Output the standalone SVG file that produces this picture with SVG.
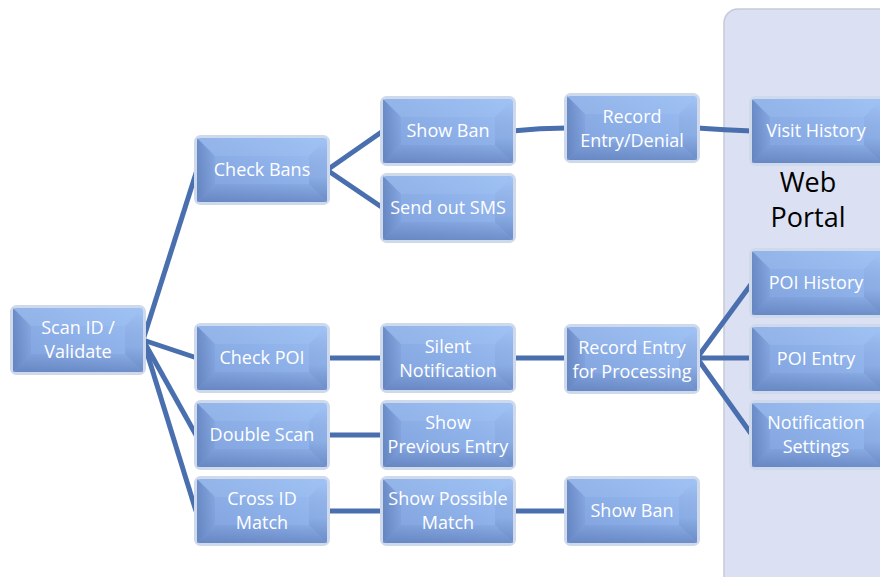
<svg xmlns="http://www.w3.org/2000/svg" xmlns:xlink="http://www.w3.org/1999/xlink" width="880" height="577" viewBox="0 0 880 577">
<style>
.t{font-family:"Open Sans","Liberation Sans",sans-serif;font-size:18px;fill:#ffffff;text-anchor:middle}
.c{stroke:#4a6fae;stroke-width:5;fill:none;stroke-linecap:butt}
.wp{font-family:"Open Sans","Liberation Sans",sans-serif;font-size:27px;fill:#000000;text-anchor:middle}
</style>
<defs>
<linearGradient id="face2" x1="1" y1="0" x2="0" y2="1">
<stop offset="0" stop-color="#9cbff4"/>
<stop offset="1" stop-color="#7e9fdb"/>
</linearGradient>
<linearGradient id="gl" x1="0" y1="0" x2="1" y2="0">
<stop offset="0" stop-color="#4f6fab" stop-opacity="0.55"/>
<stop offset="1" stop-color="#4f6fab" stop-opacity="0.1"/>
</linearGradient>
<linearGradient id="gb" x1="0" y1="0" x2="0" y2="1">
<stop offset="0" stop-color="#4f6fab" stop-opacity="0.1"/>
<stop offset="1" stop-color="#4f6fab" stop-opacity="0.5"/>
</linearGradient>
<linearGradient id="gr" x1="0" y1="0" x2="0" y2="1">
<stop offset="0" stop-color="#b5d2fa" stop-opacity="0.3"/>
<stop offset="0.6" stop-color="#4f6fab" stop-opacity="0.1"/>
<stop offset="1" stop-color="#4f6fab" stop-opacity="0.55"/>
</linearGradient>
<g id="bx">
<rect x="-1.5" y="-1.5" width="133" height="67" rx="5" fill="none" stroke="#cfd9ec" stroke-width="3"/>
<rect x="0" y="0" width="130" height="64" rx="3" fill="url(#face2)"/>
<polygon points="0,0 18,18 18,46 0,64" fill="url(#gl)"/>
<polygon points="0,64 18,46 112,46 130,64" fill="url(#gb)"/>
<polygon points="130,0 130,64 112,46 112,18" fill="url(#gr)"/>
<polygon points="0,0 130,0 112,18 18,18" fill="#b8d4fa" opacity="0.15"/>
</g>
</defs>
<rect width="880" height="577" fill="#ffffff"/>
<g id="web-portal">
<rect x="724" y="9" width="180" height="600" rx="14" fill="#dce0f3" stroke="#c6cad8" stroke-width="1.5"/>
<text class="wp" x="808" y="192">Web</text>
<text class="wp" x="808" y="227">Portal</text>
</g>
<g id="connectors">
<line class="c" x1="143" y1="340" x2="197" y2="170"/>
<line class="c" x1="143" y1="340" x2="197" y2="358"/>
<line class="c" x1="143" y1="340" x2="196" y2="435"/>
<line class="c" x1="143" y1="340" x2="196" y2="511"/>
<line class="c" x1="327" y1="170" x2="383" y2="131"/>
<line class="c" x1="327" y1="170" x2="383" y2="208"/>
<path class="c" d="M512,131 Q540,128 567,128"/>
<path class="c" d="M697,128 Q725,130 752,131"/>
<line class="c" x1="327" y1="358" x2="383" y2="358"/>
<line class="c" x1="512" y1="358" x2="567" y2="358"/>
<line class="c" x1="697" y1="358" x2="752" y2="283"/>
<line class="c" x1="697" y1="358" x2="752" y2="358"/>
<line class="c" x1="697" y1="358" x2="752" y2="435"/>
<line class="c" x1="327" y1="435" x2="383" y2="435"/>
<line class="c" x1="327" y1="511" x2="383" y2="511"/>
<line class="c" x1="512" y1="511" x2="567" y2="511"/>
</g>
<g id="scan-id"><use xlink:href="#bx" x="13" y="308"/><text class="t" x="78" y="334">Scan ID /</text><text class="t" x="78" y="358">Validate</text></g>
<g id="check-bans"><use xlink:href="#bx" x="197" y="138"/><text class="t" x="262" y="176">Check Bans</text></g>
<g id="check-poi"><use xlink:href="#bx" x="197" y="326"/><text class="t" x="262" y="364">Check POI</text></g>
<g id="double-scan"><use xlink:href="#bx" x="197" y="403"/><text class="t" x="262" y="441">Double Scan</text></g>
<g id="cross-id"><use xlink:href="#bx" x="197" y="479"/><text class="t" x="262" y="505">Cross ID</text><text class="t" x="262" y="529">Match</text></g>
<g id="show-ban-1"><use xlink:href="#bx" x="383" y="99"/><text class="t" x="448" y="137">Show Ban</text></g>
<g id="send-sms"><use xlink:href="#bx" x="383" y="176"/><text class="t" x="448" y="214">Send out SMS</text></g>
<g id="silent-notification"><use xlink:href="#bx" x="383" y="326"/><text class="t" x="448" y="353">Silent</text><text class="t" x="448" y="377">Notification</text></g>
<g id="show-previous"><use xlink:href="#bx" x="383" y="403"/><text class="t" x="448" y="429">Show</text><text class="t" x="448" y="453">Previous Entry</text></g>
<g id="show-possible"><use xlink:href="#bx" x="383" y="479"/><text class="t" x="448" y="505">Show Possible</text><text class="t" x="448" y="529">Match</text></g>
<g id="record-entry-denial"><use xlink:href="#bx" x="567" y="96"/><text class="t" x="632" y="123">Record</text><text class="t" x="632" y="147">Entry/Denial</text></g>
<g id="record-processing"><use xlink:href="#bx" x="567" y="327"/><text class="t" x="632" y="354">Record Entry</text><text class="t" x="632" y="378">for Processing</text></g>
<g id="show-ban-2"><use xlink:href="#bx" x="567" y="479"/><text class="t" x="632" y="517">Show Ban</text></g>
<g id="visit-history"><use xlink:href="#bx" x="752" y="99"/><text class="t" x="816" y="137">Visit History</text></g>
<g id="poi-history"><use xlink:href="#bx" x="752" y="251"/><text class="t" x="816" y="289">POI History</text></g>
<g id="poi-entry"><use xlink:href="#bx" x="752" y="327"/><text class="t" x="816" y="365">POI Entry</text></g>
<g id="notification-settings"><use xlink:href="#bx" x="752" y="403"/><text class="t" x="816" y="429">Notification</text><text class="t" x="816" y="453">Settings</text></g>
</svg>
